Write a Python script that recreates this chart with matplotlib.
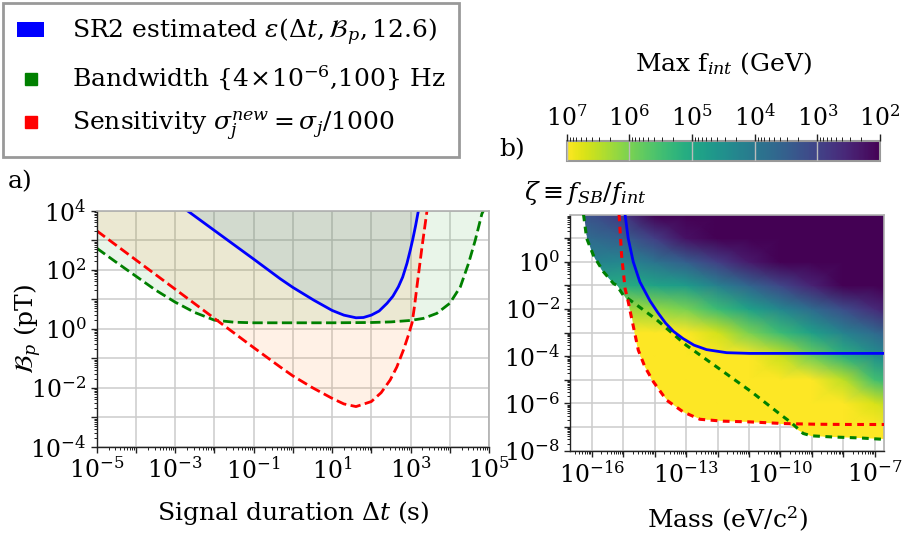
import numpy as np
import matplotlib
matplotlib.use('Agg')
import matplotlib.pyplot as plt
from matplotlib.colors import LogNorm
from matplotlib.lines import Line2D
from matplotlib.patches import Patch, Polygon
from matplotlib.ticker import FixedLocator, NullFormatter

plt.rcParams['font.family'] = 'DejaVu Serif'
plt.rcParams['mathtext.fontset'] = 'dejavuserif'
plt.rcParams['font.size'] = 18

# ---- panel a): log10 of signal duration (s) and B_p (pT)
sr2_logt = [-2.69, -2.0, -1.0, -0.32, 0.0, 0.53, 1.0, 1.3, 1.61, 1.8, 2.0, 2.2,
            2.4, 2.55, 2.69, 2.8, 2.91, 3.0, 3.06, 3.13, 3.2]
sr2_logb = [4.0, 3.33, 2.36, 1.69, 1.40, 0.97, 0.62, 0.46, 0.37, 0.38, 0.46, 0.6,
            0.86, 1.1, 1.42, 1.75, 2.22, 2.7, 3.05, 3.5, 4.0]

bw_logt = [-5.0, -4.5, -4.0, -3.5, -3.0, -2.5, -2.0, -1.5, -1.0, 0.0, 1.0, 2.0,
           2.5, 3.0, 3.33, 3.67, 4.0, 4.27, 4.48, 4.65, 4.82, 4.86]
bw_logb = [2.73, 2.25, 1.78, 1.31, 0.9, 0.55, 0.29, 0.22, 0.2, 0.2, 0.2, 0.21,
           0.23, 0.28, 0.35, 0.52, 0.86, 1.42, 2.22, 3.0, 3.9, 4.0]

sens_logt = [-5.0, -4.0, -3.0, -2.0, -1.0, -0.32, 0.0, 0.5, 1.0, 1.3, 1.61, 2.0,
             2.25, 2.48, 2.65, 2.82, 2.95, 3.04, 3.1, 3.17, 3.29, 3.42]
sens_logb = [3.32, 2.33, 1.34, 0.35, -0.64, -1.3, -1.6, -2.0, -2.36, -2.55, -2.64, -2.47,
             -2.17, -1.74, -1.3, -0.72, -0.2, 0.2, 0.75, 1.5, 2.75, 4.0]

# ---- panel b): log10 of mass (eV/c^2) and zeta
sr2_logm = [-14.94, -14.84, -14.68, -14.47, -14.15, -13.9, -13.65, -13.4, -13.1,
            -12.75, -12.35, -11.71, -10.98, -6.71]
sr2_logz = [2.0, 0.99, 0.0, -0.85, -1.65, -2.15, -2.6, -2.95, -3.25,
            -3.53, -3.72, -3.85, -3.88, -3.88]

bw_logm = [-16.26, -16.16, -15.95, -15.63, -15.31, -15.21, -15.0, -14.57, -13.94,
           -13.0, -12.03, -10.92, -9.97, -9.65, -9.28, -9.02, -8.33, -7.48, -6.71]
bw_logz = [2.0, 0.99, 0.28, -0.42, -0.92, -0.99, -1.41, -1.83, -2.45,
           -3.53, -4.45, -5.51, -6.5, -6.82, -7.27, -7.37, -7.42, -7.46, -7.52]

sens_logm = [-15.13, -15.05, -14.94, -14.84, -14.73, -14.62, -14.52, -14.31, -14.04,
             -13.62, -13.09, -12.56, -11.82, -10.98, -9.92, -8.86, -7.8, -6.71]
sens_logz = [2.0, 0.28, -1.13, -1.69, -2.4, -3.1, -3.74, -4.45, -5.08,
             -5.86, -6.36, -6.67, -6.75, -6.78, -6.85, -6.88, -6.89, -6.89]

# lower edge of the coloured region (white below it)
edge_logm = [-17.0, -16.26, -16.16, -15.95, -15.63, -15.31, -15.21, -14.89, -14.84,
             -14.73, -14.62, -14.52, -14.31, -14.04, -13.62, -13.09, -12.56, -11.82,
             -10.98, -9.92, -9.75, -9.28, -9.02, -8.33, -7.48, -6.71]
edge_logz = [2.1, 2.0, 0.99, 0.28, -0.42, -0.92, -0.99, -1.62, -1.69,
             -2.4, -3.1, -3.74, -4.45, -5.08, -5.86, -6.36, -6.67, -6.75,
             -6.78, -6.85, -6.86, -7.27, -7.37, -7.42, -7.46, -7.52]

# max f_int (log10 GeV) on a decade grid, estimated from the colours
mass_nodes = [-17, -16, -15, -14, -13, -12, -11, -10, -9, -8, -7, -6]
zeta_nodes = [-8, -7, -6, -5, -4, -3, -2, -1, 0, 1, 2]
fint_log = [
    [8.0, 8.0, 8.0, 8.0, 8.0, 8.0, 8.0, 8.0, 8.0, 8.0, 8.0, 8.0],
    [8.0, 8.0, 8.0, 8.0, 8.0, 8.0, 8.0, 8.0, 8.0, 8.0, 7.8, 7.3],
    [8.0, 8.0, 8.0, 8.0, 8.0, 8.0, 8.0, 8.0, 8.0, 7.6, 6.7, 6.2],
    [8.0, 8.0, 8.0, 8.0, 8.0, 8.0, 8.0, 7.9, 7.2, 6.5, 5.5, 5.0],
    [8.0, 8.0, 8.0, 8.0, 8.0, 7.91, 7.3, 6.6, 5.9, 5.2, 4.5, 4.0],
    [7.0, 7.0, 7.2, 7.3, 7.22, 6.66, 6.0, 5.4, 4.8, 4.2, 3.7, 3.2],
    [5.9, 6.0, 6.3, 6.2, 5.97, 5.41, 4.85, 4.29, 3.73, 3.17, 2.61, 2.05],
    [4.9, 5.0, 5.1, 4.9, 4.72, 4.16, 3.6, 3.04, 2.48, 1.92, 1.36, 1.0],
    [4.3, 4.2, 4.3, 3.9, 3.47, 2.91, 2.35, 1.79, 1.23, 1.0, 1.0, 1.0],
    [3.8, 3.7, 3.5, 2.9, 2.22, 1.66, 1.1, 1.0, 1.0, 1.0, 1.0, 1.0],
    [3.3, 3.2, 2.8, 2.0, 1.0, 1.0, 1.0, 1.0, 1.0, 1.0, 1.0, 1.0],
]

t_ticks = [-5, -4, -3, -2, -1, 0, 1, 2, 3, 4, 5]
b_ticks = [-4, -3, -2, -1, 0, 1, 2, 3, 4]
m_ticks = [-17, -16, -15, -14, -13, -12, -11, -10, -9, -8, -7]
z_ticks = [-8, -7, -6, -5, -4, -3, -2, -1, 0, 1]
cb_ticks = [2, 3, 4, 5, 6, 7]

W, H = 903, 538


def box(x0, y0, x1, y1):
    return [x0 / W, 1 - y1 / H, (x1 - x0) / W, (y1 - y0) / H]


def decade_axis(axis, exps, shown):
    axis.set_major_locator(FixedLocator([10.0 ** e for e in exps]))
    axis.set_ticklabels([r'$\mathdefault{10^{%d}}$' % e if e in shown else ''
                         for e in exps])
    minors = [k * 10.0 ** e for e in range(min(exps) - 1, max(exps) + 1)
              for k in range(2, 10)]
    axis.set_minor_locator(FixedLocator(minors))
    axis.set_minor_formatter(NullFormatter())


def style(ax):
    ax.set_axisbelow(True)
    ax.grid(True, which='major', color='#cccccc', lw=1.1)
    for s in ['top', 'right']:
        ax.spines[s].set_color('#b0b0b0')
        ax.spines[s].set_linewidth(1.2)
    for s in ['left', 'bottom']:
        ax.spines[s].set_color('#222222')
        ax.spines[s].set_linewidth(1.0)
    ax.tick_params(which='major', direction='out', length=4, width=1,
                   color='#222222', labelsize=17)
    ax.tick_params(which='minor', direction='out', length=2.5, width=0.7,
                   color='#222222')


fig = plt.figure(figsize=(9.03, 5.38), dpi=100)

# ---------------- panel a
axa = fig.add_axes(box(96.7, 210.7, 489, 446.7))
axa.set_xscale('log')
axa.set_yscale('log')
style(axa)

t_bw = 10.0 ** np.array(bw_logt)
b_bw = 10.0 ** np.array(bw_logb)
t_se = 10.0 ** np.array(sens_logt)
b_se = 10.0 ** np.array(sens_logb)
t_sr = 10.0 ** np.array(sr2_logt)
b_sr = 10.0 ** np.array(sr2_logb)

axa.fill_between(t_bw, b_bw, 1e4, color='C2', alpha=0.1, lw=0)
axa.fill_between(t_se, b_se, 1e4, color='C1', alpha=0.1, lw=0)
axa.fill_between(t_sr, b_sr, 1e4, color='C0', alpha=0.12, lw=0)
axa.plot(t_bw, b_bw, color='green', ls='--', lw=2)
axa.plot(t_se, b_se, color='red', ls='--', lw=2)
axa.plot(t_sr, b_sr, color='blue', lw=2)

axa.set_xlim(1e-5, 1e5)
axa.set_ylim(1e-4, 1e4)
decade_axis(axa.xaxis, t_ticks, [-5, -3, -1, 1, 3, 5])
decade_axis(axa.yaxis, b_ticks, [-4, -2, 0, 2, 4])
axa.set_xlabel(r'Signal duration $\Delta t$ (s)', labelpad=11)
axa.set_ylabel(r'$\mathcal{B}_p$ (pT)')
axa.yaxis.set_label_coords(-0.135, 0.5)

# ---------------- panel b
axb = fig.add_axes(box(570, 215, 884, 450.7))
axb.set_xscale('log')
axb.set_yscale('log')
style(axb)

mesh = axb.pcolormesh(10.0 ** np.array(mass_nodes), 10.0 ** np.array(zeta_nodes),
                      10.0 ** np.array(fint_log), shading='gouraud',
                      cmap='viridis', norm=LogNorm(1e2, 1e7), zorder=1)
clip_pts = np.column_stack([10.0 ** np.array(edge_logm + [-6.0, -6.0, -18.0]),
                            10.0 ** np.array(edge_logz + [-7.52, 3.0, 3.0])])
clip = Polygon(clip_pts, closed=True, transform=axb.transData)
mesh.set_clip_path(clip)

axb.plot(10.0 ** np.array(bw_logm), 10.0 ** np.array(bw_logz), color='green',
         ls=(0, (2.2, 1.8)), lw=2.2, zorder=3)
axb.plot(10.0 ** np.array(sens_logm), 10.0 ** np.array(sens_logz), color='red',
         ls=(0, (2.2, 1.8)), lw=2.2, zorder=3)
axb.plot(10.0 ** np.array(sr2_logm), 10.0 ** np.array(sr2_logz), color='blue',
         lw=2, zorder=4)

axb.set_xlim(10 ** -16.69, 10 ** -6.71)
axb.set_ylim(1e-8, 10 ** 1.98)
decade_axis(axb.xaxis, m_ticks, [-16, -13, -10, -7])
decade_axis(axb.yaxis, z_ticks, [-8, -6, -4, -2, 0])
axb.set_xlabel(r'Mass (eV/c$^2$)', labelpad=12)

# colorbar on top
cax = fig.add_axes(box(566.7, 140.7, 880, 161))
cb = fig.colorbar(mesh, cax=cax, orientation='horizontal')
cax.invert_xaxis()
cax.xaxis.set_ticks_position('top')
cax.xaxis.set_label_position('top')
decade_axis(cax.xaxis, cb_ticks, cb_ticks)
cax.set_xlim(1e7, 1e2)
cax.tick_params(which='major', direction='out', length=5, width=1,
                color='#222222', pad=2, labelsize=17)
cax.tick_params(which='minor', direction='out', length=3, width=0.7, color='#222222')
cb.outline.set_edgecolor('#999999')
cb.outline.set_linewidth(1.5)
cax.set_axisbelow(False)
cax.grid(True, which='major', axis='x', color='#bbbbbb', lw=1)
cb.set_label(r'Max f$_{int}$ (GeV)', labelpad=24)

# ---------------- texts and legend
fig.text(20 / W, 1 - 182 / H, 'a)', ha='center', va='center')
fig.text(512 / W, 1 - 150 / H, 'b)', ha='center', va='center')
fig.text(585 / W, 1 - 193 / H, r'$\zeta \equiv f_{SB}/f_{int}$', ha='center', va='center')

handles = [
    Patch(facecolor='blue', edgecolor='none'),
    Line2D([], [], color='green', marker='s', ls='none', markersize=8),
    Line2D([], [], color='red', marker='s', ls='none', markersize=8),
]
labels = [
    r'SR2 estimated $\epsilon(\Delta t, \mathcal{B}_p, 12.6)$',
    r'Bandwidth $\{4\!\times\!10^{-6}$,100$\}$ Hz',
    r'Sensitivity $\sigma_j^{new} = \sigma_j/1000$',
]
leg = fig.legend(handles, labels, loc='upper left', bbox_to_anchor=(3 / W, 1 - 3 / H),
                 borderaxespad=0, fancybox=False, framealpha=1, fontsize=18,
                 handlelength=1.1, handleheight=0.55, handletextpad=1.1,
                 borderpad=0.55, labelspacing=0.65)
leg.get_frame().set_edgecolor('#999999')
leg.get_frame().set_linewidth(2)

fig.savefig('out.png', dpi=100)
